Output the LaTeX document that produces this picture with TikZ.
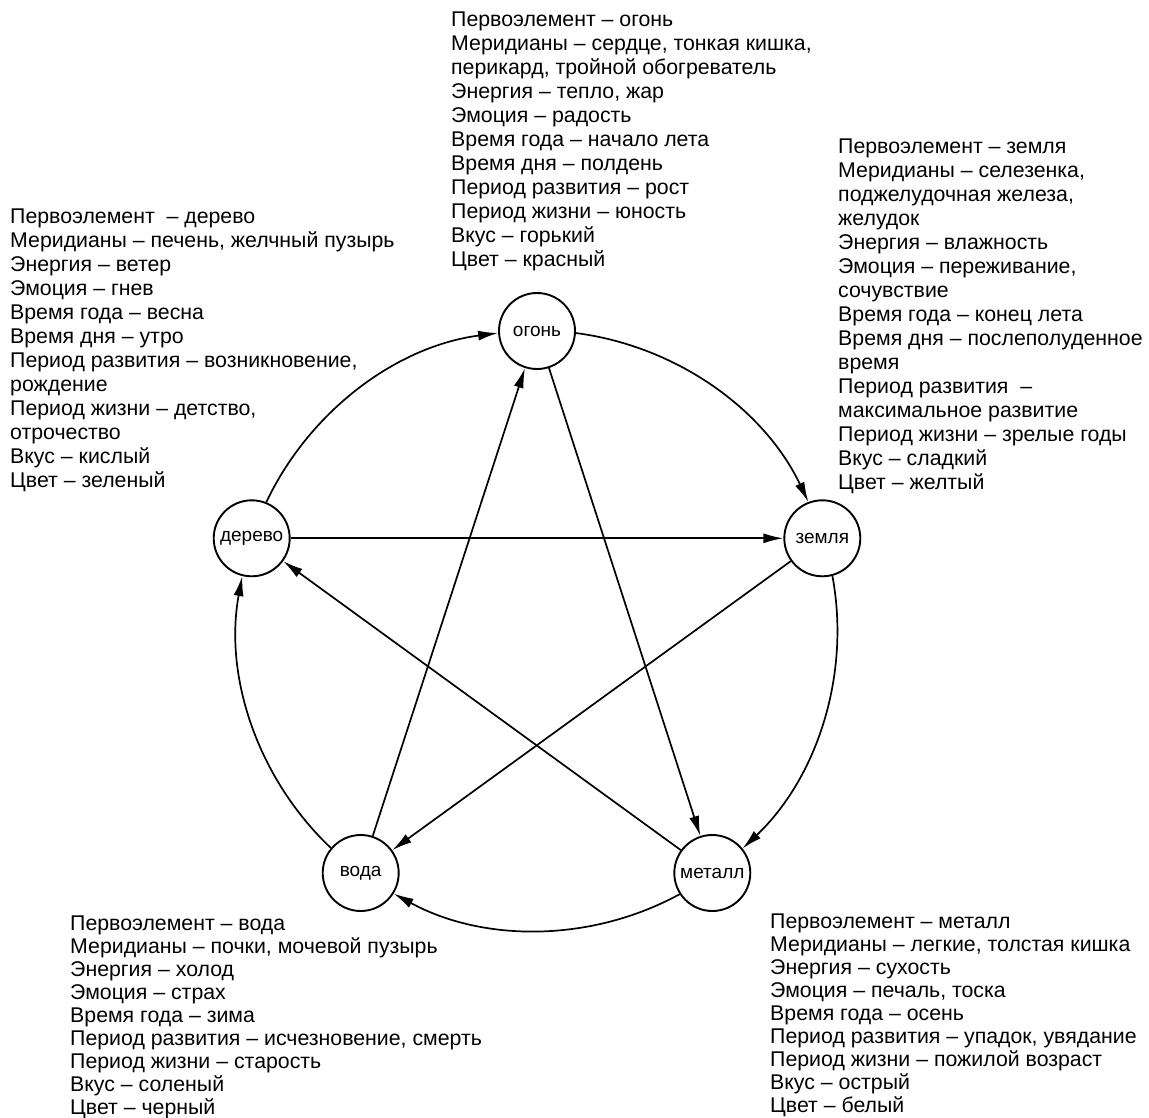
\documentclass[tikz,border=0pt]{standalone}
\usepackage{fontspec}
\setmainfont{Liberation Sans}
\usetikzlibrary{arrows.meta}
\begin{document}
\begin{tikzpicture}[x=1pt,y=1pt,
  elem/.style={circle,draw,line width=1.9pt,minimum size=76pt,inner sep=0pt,font=\fontsize{19}{20}\selectfont},
  info/.style={anchor=north west,inner sep=0pt,align=left,font=\fontsize{21.3}{24}\selectfont},
  infob/.style={info,font=\fontsize{21.3}{23}\selectfont},
  conn/.style={line width=1.7pt,-{Latex[length=20pt,width=10pt]}},
  arcconn/.style={conn,looseness=0.907},
]
\useasboundingbox (0,0) rectangle (1149,-1118);

\node[elem] (ogon) at (537,-331) {огонь};
\node[elem] (zemlya) at (822.3,-538.3) {земля};
\node[elem] (metall) at (712.3,-873) {металл};
\node[elem] (voda) at (360.7,-873) {вода};
\node[elem] (derevo) at (251.7,-538.3) {дерево};

\draw[arcconn] (derevo.68.3) to[out=64.6,in=187.4] (ogon.183.7);
\draw[arcconn] (ogon.-3.7) to[out=-7.4,in=115.4] (zemlya.111.7);
\draw[arcconn] (zemlya.-75.7) to[out=-79.4,in=43.4] (metall.39.7);
\draw[arcconn] (metall.-147.7) to[out=-151.4,in=-28.6] (voda.-32.3);
\draw[arcconn] (voda.140.3) to[out=136.6,in=259.4] (derevo.-104.3);

\draw[conn] (derevo) -- (zemlya);
\draw[conn] (zemlya) -- (voda);
\draw[conn] (voda) -- (ogon);
\draw[conn] (ogon) -- (metall);
\draw[conn] (metall) -- (derevo);

\node[info] (tfire) at (451,-12) {Первоэлемент – огонь\\
Меридианы – сердце, тонкая кишка,\\
перикард, тройной обогреватель\\
Энергия – тепло, жар\\
Эмоция – радость\\
Время года – начало лета\\
Время дня – полдень\\
Период развития – рост\\
Период жизни – юность\\
Вкус – горький\\
Цвет – красный};

\node[info] (twood) at (10,-209) {Первоэлемент\ \ – дерево\\
Меридианы – печень, желчный пузырь\\
Энергия – ветер\\
Эмоция – гнев\\
Время года – весна\\
Время дня – утро\\
Период развития – возникновение,\\
рождение\\
Период жизни – детство,\\
отрочество\\
Вкус – кислый\\
Цвет – зеленый};

\node[info] (tearth) at (838,-139) {Первоэлемент – земля\\
Меридианы – селезенка,\\
поджелудочная железа,\\
желудок\\
Энергия – влажность\\
Эмоция – переживание,\\
сочувствие\\
Время года – конец лета\\
Время дня – послеполуденное\\
время\\
Период развития\ \ –\\
максимальное развитие\\
Период жизни – зрелые годы\\
Вкус – сладкий\\
Цвет – желтый};

\node[infob] (twater) at (70,-916) {Первоэлемент – вода\\
Меридианы – почки, мочевой пузырь\\
Энергия – холод\\
Эмоция – страх\\
Время года – зима\\
Период развития – исчезновение, смерть\\
Период жизни – старость\\
Вкус – соленый\\
Цвет – черный};

\node[infob] (tmetal) at (770,-914) {Первоэлемент – металл\\
Меридианы – легкие, толстая кишка\\
Энергия – сухость\\
Эмоция – печаль, тоска\\
Время года – осень\\
Период развития – упадок, увядание\\
Период жизни – пожилой возраст\\
Вкус – острый\\
Цвет – белый};
\end{tikzpicture}
\end{document}
